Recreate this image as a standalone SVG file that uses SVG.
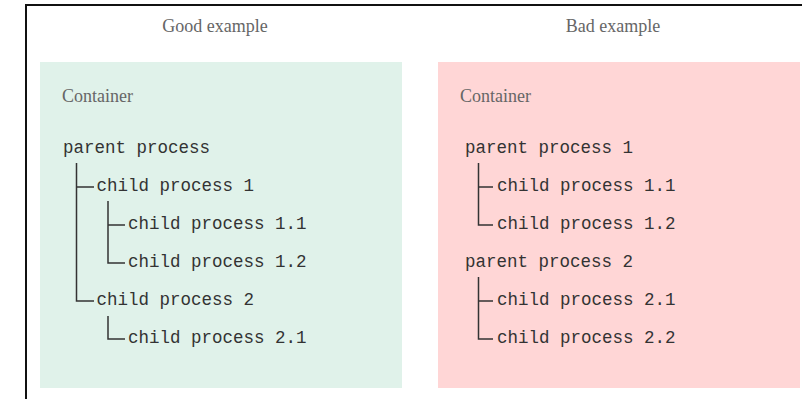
<svg xmlns="http://www.w3.org/2000/svg" width="802" height="399" viewBox="0 0 802 399">
  <style>
    .frame { fill: #ffffff; stroke: #111111; stroke-width: 2; }
    .title { font-family: "Liberation Serif", "Times New Roman", serif; font-size: 18px; fill: #666666; }
    .label { font-family: "Liberation Serif", "Times New Roman", serif; font-size: 18px; fill: #666666; }
    .proc { font-family: "Liberation Mono", "Courier New", monospace; font-size: 17.5px; fill: #333333; }
    .good { fill: #e0f2ea; }
    .bad { fill: #ffd6d6; }
    .tree { fill: none; stroke: #333333; stroke-width: 1.5; }
  </style>

  <!-- outer frame, open to the right and bottom -->
  <rect class="frame" x="26" y="5" width="800" height="420"/>

  <!-- column headings -->
  <text class="title" x="215" y="32" text-anchor="middle">Good example</text>
  <text class="title" x="613" y="32" text-anchor="middle">Bad example</text>

  <!-- left container: one root process -->
  <g id="good-container">
    <rect class="good" x="40" y="62" width="362" height="326"/>
    <text class="label" x="62" y="102">Container</text>
  </g>

  <!-- right container: two root processes -->
  <g id="bad-container">
    <rect class="bad" x="438" y="62" width="362" height="326"/>
    <text class="label" x="460" y="102">Container</text>
  </g>

  <!-- tree connectors -->
  <g id="connectors" class="tree">
    <!-- good: parent process -> children -->
    <path d="M76.5 163 V301 H94 M76.5 187 H94"/>
    <!-- good: child process 1 -> 1.1, 1.2 -->
    <path d="M108 201 V263 H125 M108 225 H125"/>
    <!-- good: child process 2 -> 2.1 -->
    <path d="M108 316 V339 H125"/>
    <!-- bad: parent process 1 -> 1.1, 1.2 -->
    <path d="M478.5 163 V225 H493 M478.5 187 H493"/>
    <!-- bad: parent process 2 -> 2.1, 2.2 -->
    <path d="M478.5 277 V339 H493 M478.5 301 H493"/>
  </g>

  <!-- good example nodes -->
  <g id="good-parent"><text class="proc" x="63" y="153">parent process</text></g>
  <g id="good-child-1"><text class="proc" x="96.5" y="191">child process 1</text></g>
  <g id="good-child-1-1"><text class="proc" x="128" y="229">child process 1.1</text></g>
  <g id="good-child-1-2"><text class="proc" x="128" y="267">child process 1.2</text></g>
  <g id="good-child-2"><text class="proc" x="96.5" y="305">child process 2</text></g>
  <g id="good-child-2-1"><text class="proc" x="128" y="343">child process 2.1</text></g>

  <!-- bad example nodes -->
  <g id="bad-parent-1"><text class="proc" x="465" y="153">parent process 1</text></g>
  <g id="bad-child-1-1"><text class="proc" x="497" y="191">child process 1.1</text></g>
  <g id="bad-child-1-2"><text class="proc" x="497" y="229">child process 1.2</text></g>
  <g id="bad-parent-2"><text class="proc" x="465" y="267">parent process 2</text></g>
  <g id="bad-child-2-1"><text class="proc" x="497" y="305">child process 2.1</text></g>
  <g id="bad-child-2-2"><text class="proc" x="497" y="343">child process 2.2</text></g>
</svg>
